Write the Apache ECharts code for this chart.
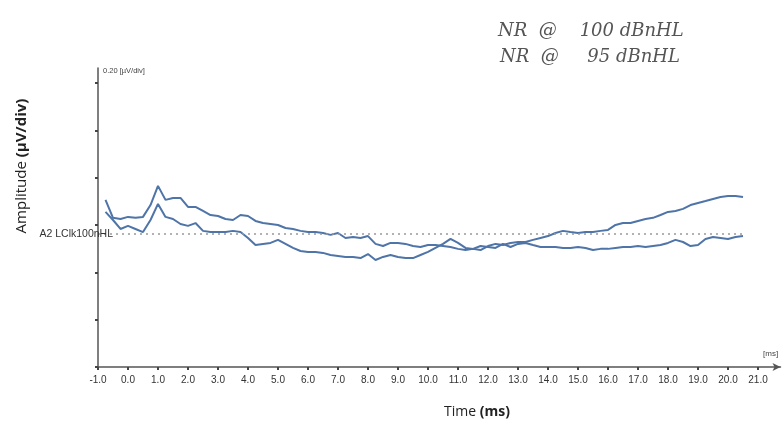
<!DOCTYPE html>
<html>
<head>
<meta charset="utf-8">
<script src="https://cdn.jsdelivr.net/npm/echarts@6/dist/echarts.min.js"></script>
<style>html,body{margin:0;padding:0;background:#fff;}#c{width:784px;height:423px;}</style>
</head>
<body>
<div id="c"></div>
<script>
// Time (ms)
var time = [-0.75,-0.5,-0.25,0,0.25,0.5,0.75,1,1.25,1.5,1.75,2,2.25,2.5,2.75,3,3.25,3.5,3.75,4,4.25,4.5,4.75,5,5.25,5.5,5.75,6,6.25,6.5,6.75,7,7.25,7.5,7.75,8,8.25,8.5,8.75,9,9.25,9.5,9.75,10,10.25,10.5,10.75,11,11.25,11.5,11.75,12,12.25,12.5,12.75,13,13.25,13.5,13.75,14,14.25,14.5,14.75,15,15.25,15.5,15.75,16,16.25,16.5,16.75,17,17.25,17.5,17.75,18,18.25,18.5,18.75,19,19.25,19.5,19.75,20,20.25,20.5];
// Amplitude (uV, measured from bottom of display)
var traceA = [0.706,0.630,0.625,0.634,0.630,0.634,0.684,0.765,0.706,0.714,0.714,0.676,0.676,0.659,0.642,0.638,0.625,0.621,0.642,0.638,0.617,0.608,0.604,0.600,0.587,0.583,0.575,0.570,0.570,0.566,0.558,0.566,0.545,0.549,0.545,0.553,0.520,0.511,0.524,0.524,0.520,0.511,0.507,0.515,0.515,0.511,0.507,0.499,0.494,0.499,0.494,0.511,0.520,0.515,0.524,0.528,0.528,0.537,0.545,0.553,0.566,0.575,0.570,0.566,0.570,0.570,0.575,0.579,0.600,0.608,0.608,0.617,0.625,0.630,0.642,0.655,0.659,0.668,0.684,0.693,0.701,0.710,0.718,0.722,0.722,0.718];
var traceB = [0.655,0.621,0.583,0.596,0.583,0.570,0.621,0.689,0.634,0.625,0.604,0.596,0.608,0.575,0.570,0.570,0.570,0.575,0.570,0.545,0.515,0.520,0.524,0.537,0.520,0.503,0.490,0.486,0.486,0.482,0.473,0.469,0.465,0.465,0.460,0.477,0.452,0.465,0.473,0.465,0.460,0.460,0.473,0.486,0.503,0.520,0.541,0.524,0.503,0.499,0.511,0.507,0.503,0.520,0.507,0.520,0.524,0.515,0.507,0.507,0.507,0.503,0.503,0.507,0.503,0.494,0.499,0.499,0.503,0.507,0.507,0.511,0.507,0.511,0.515,0.524,0.537,0.528,0.511,0.515,0.541,0.549,0.545,0.541,0.549,0.553];
var baselineLevel = 0.562;
var xTicks = [-1,0,1,2,3,4,5,6,7,8,9,10,11,12,13,14,15,16,17,18,19,20,21];
var yTicks = [0,0.2,0.4,0.6,0.8,1.0,1.2];

function pairs(v){ return time.map(function(t,i){ return [t, v[i]]; }); }

var chart = echarts.init(document.getElementById('c'));
var lineColor = '#4e74a8';
chart.setOption({
  animation: false,
  backgroundColor: '#ffffff',
  grid: { left: 98, top: 68, right: 3.5, bottom: 56, containLabel: false, outerBoundsMode: 'none' },
  xAxis: {
    type: 'value', min: -1, max: 21.75,
    axisLine: { show: true, onZero: false, lineStyle: { color: '#555', width: 1.5 }, symbol: ['none','arrow'], symbolSize: [6,8] },
    axisTick: { show: true, length: 3, customValues: xTicks, lineStyle: { color: '#444', width: 2 } },
    axisLabel: { customValues: xTicks, formatter: function(v){ return v.toFixed(1); }, color: '#333', fontSize: 10, fontFamily: 'Liberation Sans', margin: 8 },
    splitLine: { show: false }
  },
  yAxis: {
    type: 'value', min: 0, max: 1.263,
    axisLine: { show: true, onZero: false, lineStyle: { color: '#555', width: 1.5 } },
    axisTick: { show: true, length: 3, customValues: yTicks, lineStyle: { color: '#444', width: 2 } },
    axisLabel: { show: false },
    splitLine: { show: false }
  },
  series: [
    { type: 'line', data: pairs(traceA), showSymbol: false, smooth: false,
      lineStyle: { color: lineColor, width: 2 }, itemStyle: { color: lineColor }, z: 3,
      markLine: { silent: true, symbol: 'none',
        lineStyle: { color: '#999', type: [2,4], width: 1.5 },
        label: { show: true, position: 'start', formatter: 'A2 LClk100nHL', color: '#333', fontSize: 10.5, fontFamily: 'Liberation Sans', distance: -15 },
        data: [[{ coord: [-1, baselineLevel] }, { coord: [20.5, baselineLevel] }]] } },
    { type: 'line', data: pairs(traceB), showSymbol: false, smooth: false,
      lineStyle: { color: lineColor, width: 2 }, itemStyle: { color: lineColor }, z: 3 }
  ],
  graphic: [
    { type: 'text', left: 103, top: 67, style: { text: '0.20 [\u00b5V/div]', fontSize: 7.5, fill: '#444', fontFamily: 'Liberation Sans' } },
    { type: 'text', left: 763, top: 350, style: { text: '[ms]', fontSize: 8, fill: '#444', fontFamily: 'Liberation Sans' } },
    { type: 'text', x: 22, y: 166, rotation: Math.PI / 2, style: {
        text: '{n|Amplitude }{b|(\u00b5V/div)}', align: 'center', verticalAlign: 'middle',
        rich: { n: { fontSize: 15, fill: '#222', fontFamily: 'Open Sans' }, b: { fontSize: 15, fill: '#222', fontFamily: 'Open Sans', fontWeight: 'bold' } } } },
    { type: 'text', x: 477, y: 412, style: {
        text: '{n|Time }{b|(ms)}', align: 'center', verticalAlign: 'middle',
        rich: { n: { fontSize: 14, fill: '#222', fontFamily: 'Open Sans' }, b: { fontSize: 14, fill: '#222', fontFamily: 'Open Sans', fontWeight: 'bold' } } } },
    { type: 'text', left: 498, top: 22, style: { text: 'NR  @    100 dBnHL', fontSize: 18, fontStyle: 'italic', fill: '#555', fontFamily: 'DejaVu Serif' } },
    { type: 'text', left: 500, top: 48, style: { text: 'NR  @     95 dBnHL', fontSize: 18, fontStyle: 'italic', fill: '#555', fontFamily: 'DejaVu Serif' } }
  ]
});
</script>
</body>
</html>
